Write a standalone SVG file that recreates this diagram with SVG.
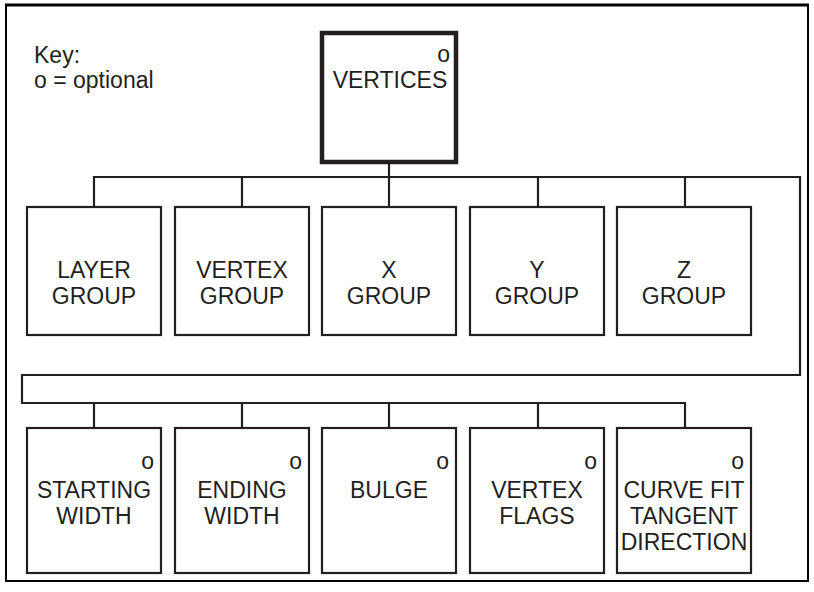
<svg xmlns="http://www.w3.org/2000/svg" width="814" height="592" viewBox="0 0 814 592">
<style>
text{font-family:"Liberation Sans",Arial,sans-serif;font-size:23px;fill:#231f20}
.c{text-anchor:middle}
.r{text-anchor:end}
.box{fill:#fff;stroke:#231f20;stroke-width:2.2}
.main{fill:#fff;stroke:#231f20;stroke-width:4.5}
.ln{fill:none;stroke:#231f20;stroke-width:2.2}
</style>
<rect x="0" y="0" width="814" height="592" fill="#fff"/>
<g id="frame">
<path d="M6,581 V5 H808 V581 Z" fill="none" stroke="#000" stroke-width="2"/>
<line x1="5" y1="5" x2="809" y2="5" stroke="#000" stroke-width="3"/>
</g>
<g id="key">
<text x="34" y="63">Key:</text>
<text x="34" y="88">o = optional</text>
</g>
<g id="connectors">
<path class="ln" d="M389,162 V177 M94,207 V177 H800 V375 H22 V403 H685 V428 M242,177 V207 M389,177 V207 M538,177 V207 M685,177 V207 M94,403 V428 M242,403 V428 M389,403 V428 M538,403 V428"/>
</g>
<g id="vertices">
<rect class="main" x="322" y="33" width="134" height="129"/>
<text class="r" x="450" y="62">o</text>
<text class="c" x="390" y="88">VERTICES</text>
</g>
<g id="layer-group">
<rect class="box" x="27" y="207" width="134" height="128"/>
<text class="c" x="94" y="278">LAYER</text>
<text class="c" x="94" y="304">GROUP</text>
</g>
<g id="vertex-group">
<rect class="box" x="175" y="207" width="134" height="128"/>
<text class="c" x="242" y="278">VERTEX</text>
<text class="c" x="242" y="304">GROUP</text>
</g>
<g id="x-group">
<rect class="box" x="322" y="207" width="134" height="128"/>
<text class="c" x="389" y="278">X</text>
<text class="c" x="389" y="304">GROUP</text>
</g>
<g id="y-group">
<rect class="box" x="470" y="207" width="134" height="128"/>
<text class="c" x="537" y="278">Y</text>
<text class="c" x="537" y="304">GROUP</text>
</g>
<g id="z-group">
<rect class="box" x="617" y="207" width="134" height="128"/>
<text class="c" x="684" y="278">Z</text>
<text class="c" x="684" y="304">GROUP</text>
</g>
<g id="starting-width">
<rect class="box" x="27" y="428" width="134" height="145"/>
<text class="r" x="154" y="469">o</text>
<text class="c" x="94" y="498">STARTING</text>
<text class="c" x="94" y="524">WIDTH</text>
</g>
<g id="ending-width">
<rect class="box" x="175" y="428" width="134" height="145"/>
<text class="r" x="302" y="469">o</text>
<text class="c" x="242" y="498">ENDING</text>
<text class="c" x="242" y="524">WIDTH</text>
</g>
<g id="bulge">
<rect class="box" x="322" y="428" width="134" height="145"/>
<text class="r" x="449" y="469">o</text>
<text class="c" x="389" y="498">BULGE</text>
</g>
<g id="vertex-flags">
<rect class="box" x="470" y="428" width="134" height="145"/>
<text class="r" x="597" y="469">o</text>
<text class="c" x="537" y="498">VERTEX</text>
<text class="c" x="537" y="524">FLAGS</text>
</g>
<g id="curve-fit">
<rect class="box" x="617" y="428" width="134" height="145"/>
<text class="r" x="744" y="469">o</text>
<text class="c" x="684" y="498">CURVE FIT</text>
<text class="c" x="684" y="524">TANGENT</text>
<text class="c" x="684" y="550">DIRECTION</text>
</g>
</svg>
